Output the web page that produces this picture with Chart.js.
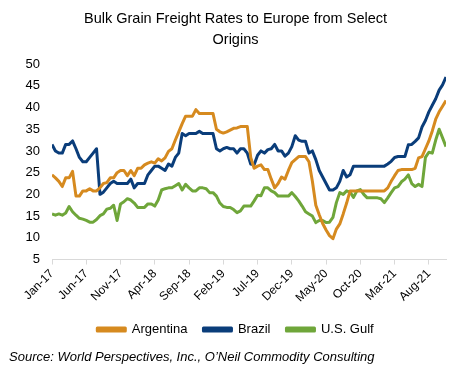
<!DOCTYPE html>
<html>
<head>
<meta charset="utf-8">
<script src="https://cdn.jsdelivr.net/npm/chart.js@4.4.1/dist/chart.umd.min.js"></script>
<style>
  body { margin: 0; background: #fff; }
  #wrap { position: relative; width: 471px; height: 367px; }
  #source {
    position: absolute; left: 9px; top: 349px;
    font: italic 13px 'Liberation Sans', Arial, sans-serif; color: #000;
    white-space: nowrap;
  }
</style>
</head>
<body>
<div id="wrap">
  <canvas id="freight-chart"></canvas>
  <div id="source">Source: World Perspectives, Inc., O’Neil Commodity Consulting</div>
</div>
<script>
// x axis is in months since Jan-17, one value every half month
let tickLabels = ["Jan-17","Jun-17","Nov-17","Apr-18","Sep-18","Feb-19","Jul-19","Dec-19","May-20","Oct-20","Mar-21","Aug-21"];

let argentina = [
  24.5,23.8,23,21.8,23.8,23.8,25.3,19.6,19.6,20.8,
  20.8,21.3,20.8,20.8,21.5,22.5,22.7,23.8,23.8,25,
  25.5,25.5,24.3,25.5,24.3,26,26,26.8,27.2,27.5,
  27.2,28.2,27.7,28.4,29.9,30.5,32.5,34.4,36.3,38,
  38,38,39.5,38.6,38.6,38.6,38.6,38.6,35,34.4,
  34.1,34.4,34.8,35.2,35.3,35.6,35.6,35.6,28.5,26,
  26.5,26.8,25.7,25.7,23.5,21.5,22.5,24,23.5,25.5,
  27.3,28,28.7,28.7,28.7,27.5,23,17.5,15.3,13.3,
  11.8,10.5,9.8,12,13.2,15.5,18,20.8,20.8,20.8,
  20.8,20.8,20.8,20.8,20.8,20.8,20.8,20.8,21.5,23,
  24.3,25.5,25.7,25.7,25.7,25.7,26,28.4,28.7,30.5,
  32.3,34.6,37.3,39,40.3,41.6
];

let brazil = [
  31.5,30,29.5,29.5,31.5,31.5,32.3,30.5,28.5,27.5,
  27.5,28.5,29.5,30.5,20,20.5,21.5,22.5,23,22.5,
  22.5,22.5,22.5,23.5,21.5,22.5,22.5,22.5,24.5,25.5,
  26.5,26.5,26,25.5,27,26.5,28.5,29.5,34,33.5,
  34,34,34,34.5,34,34,34,34,30.5,30,
  30.5,30.8,30.5,30.5,29.5,30.5,30.5,29.5,27,26.8,
  29,30,29.5,30.3,30.5,31.5,30,30,28.8,29.5,
  31,33.5,32.5,32.2,32.2,29.5,30,28,25.5,24,
  22.5,21,21,21.5,23,25.5,24,24.5,26.5,26.5,
  26.5,26.5,26.5,26.5,26.5,26.5,26.5,26.5,27,27.6,
  28.5,28.7,28.7,28.7,31.4,31.5,32.2,33,35.5,37,
  39,40.5,42,44,45.2,47
];

let usGulf = [
  15.5,15.2,15.5,15.2,15.7,17.2,16,15.2,14.5,14.3,
  14,13.6,13.6,14.2,15.1,15.5,16.6,16.8,17.5,14,
  17.8,18.3,19,18.7,18,17,17,17,17.8,17.8,
  17.3,18.7,21,21.3,21.5,21.5,22,22.5,21,22.3,
  21.5,20.8,20.8,21.5,21.5,21.3,20.4,20.4,19.6,18,
  17.2,17,17,16.5,15.8,16.2,17.3,17.3,17.3,18.5,
  19.8,19.7,21.5,21.5,20.8,20.4,19.6,19.6,19.6,19.6,
  20.4,19.5,18.5,17.3,16,15.5,15,13.5,14,14,
  13.5,13.6,14.7,18.1,20.4,20,20.8,20.5,19.3,20.8,
  21.1,20,19.2,19.2,19.2,19.2,19,18.1,19.2,20.4,
  21.5,21.8,22.9,23.5,24.5,22.5,21.8,22.3,21.8,28.5,
  29.7,29.5,32.5,35,33,31
];

function toPoints(values)
{
    return values.map((v, i) => ({ x: i * 0.5, y: v }));
}

let font = "'Liberation Sans', Arial, sans-serif";

let ctx = document.getElementById("freight-chart");
let freightChart = new Chart(ctx,
{
  type: "line",
  data: {
    datasets: [
      { label: "Argentina", data: toPoints(argentina), borderColor: "#D68A1F", backgroundColor: "#D68A1F" },
      { label: "Brazil", data: toPoints(brazil), borderColor: "#0A3D7A", backgroundColor: "#0A3D7A" },
      { label: "U.S. Gulf", data: toPoints(usGulf), borderColor: "#6FA63A", backgroundColor: "#6FA63A" }
    ]
  },
  options: {
    responsive: true,
    maintainAspectRatio: false,
    animation: false,
    layout: { padding: { left: 0, right: 0, top: 8, bottom: 21 } },
    elements: {
      line: { borderWidth: 3, tension: 0, borderJoinStyle: "round" },
      point: { radius: 0 }
    },
    plugins: {
      title: {
        display: true,
        text: ["Bulk Grain Freight Rates to Europe from Select", "Origins"],
        color: "#000",
        font: { family: font, size: 14.5, weight: "normal", lineHeight: 1.45 },
        padding: { top: 0, bottom: 14 }
      },
      legend: {
        position: "bottom",
        labels: {
          color: "#000",
          font: { family: font, size: 13 },
          boxWidth: 28,
          boxHeight: 3,
          padding: 16
        }
      },
      tooltip: { enabled: false }
    },
    scales: {
      x: {
        type: "linear",
        min: 0,
        max: 57.5,
        border: { color: "#D9D9D9" },
        grid: { drawOnChartArea: false, color: "#D9D9D9", tickLength: 5 },
        ticks: {
          stepSize: 5,
          includeBounds: false,
          autoSkip: false,
          maxRotation: 45,
          minRotation: 45,
          color: "#000",
          font: { family: font, size: 12 },
          padding: 2,
          callback: function(value) { return tickLabels[Math.round(value / 5)]; }
        }
      },
      y: {
        min: 5,
        max: 50,
        border: { display: false },
        grid: { display: false, drawTicks: false },
        afterFit: function(scale) { scale.width = 52; },
        ticks: {
          stepSize: 5,
          color: "#000",
          font: { family: font, size: 13 },
          padding: 12
        }
      },
      // empty right-hand axis, only keeps the plot clear of the right edge
      yRight: {
        position: "right",
        border: { display: false },
        grid: { display: false },
        ticks: { display: false },
        afterFit: function(scale) { scale.width = 25; }
      }
    }
  }
});
</script>
</body>
</html>
